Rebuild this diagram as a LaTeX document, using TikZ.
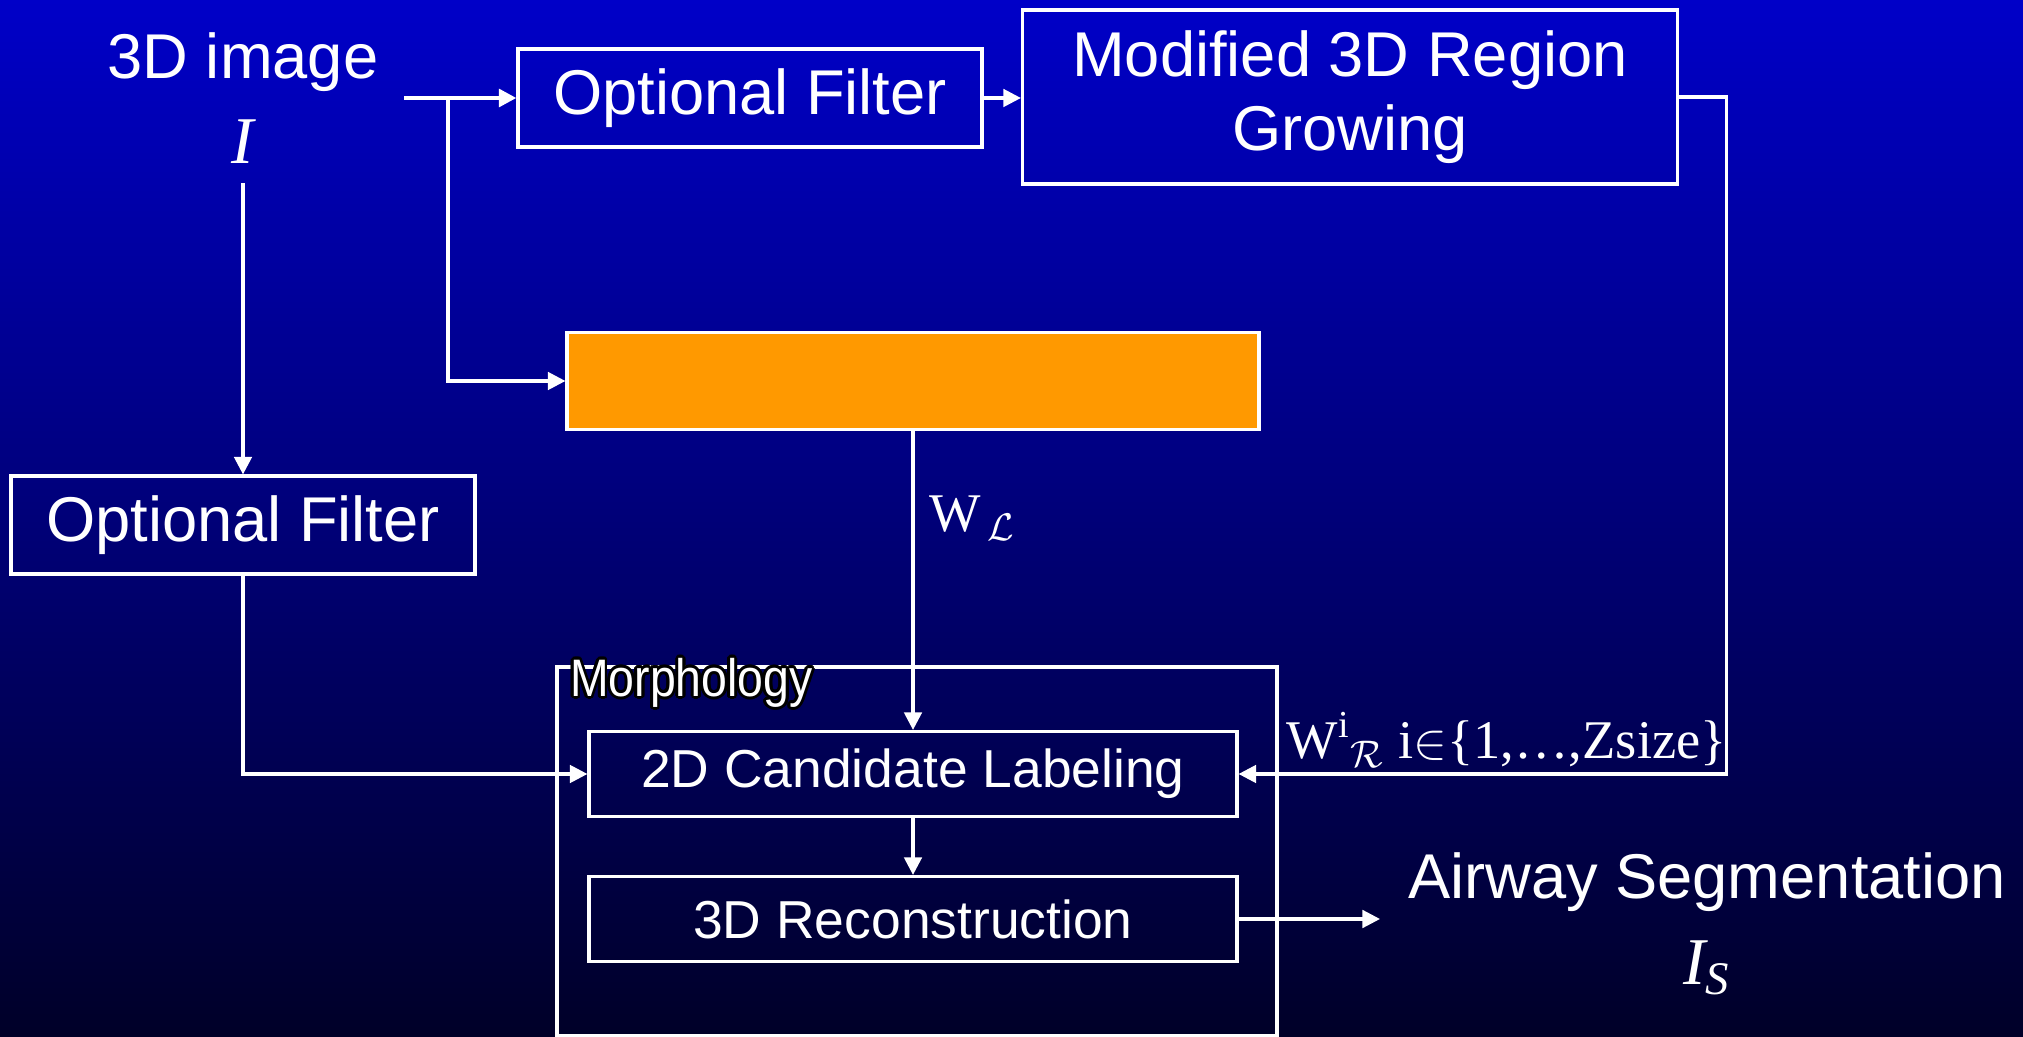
\documentclass[tikz,border=0pt]{standalone}
\usepackage{amsmath}
\usepackage{fontspec}
\setmainfont{Liberation Sans}
\newfontfamily\tnr{Liberation Serif}
\newfontfamily\narrowfont{Liberation Sans}[FakeStretch=0.88]
\usepackage{contour}
\contourlength{0.8pt}
\usetikzlibrary{arrows.meta,positioning,calc}

\definecolor{bgtop}{RGB}{0,0,200}
\definecolor{bgbot}{RGB}{0,0,40}
\definecolor{boxorange}{RGB}{255,153,0}

\tikzset{
  box/.style={draw=white, line width=0.9pt, text=white, font=\fontsize{18}{21}\selectfont, minimum height=0.98cm},
  smallbox/.style={box, font=\fontsize{15.2}{18}\selectfont, minimum width=6.48cm, minimum height=0.85cm},
  txt/.style={text=white, font=\fontsize{18}{21}\selectfont},
  mathtxt/.style={text=white, font=\tnr\fontsize{15.5}{18}\selectfont},
  arr/.style={draw=white, line width=0.9pt, -{Triangle[length=5pt,width=5pt]}},
}

\begin{document}
\begin{tikzpicture}
\useasboundingbox (0,0) rectangle (20.23,10.36);
\shade[top color=bgtop, bottom color=bgbot] (0,0) rectangle (20.23,10.36);

% input and first branch
\node[txt] (img) at (2.43,9.74) {3D image};
\node[txt, font=\tnr\itshape\fontsize{19}{21}\selectfont] (imgI) at (2.43,8.94) {I};
\coordinate (imgout) at (4.04,9.38);
\coordinate (split) at (4.48,9.38);
\node[box, minimum width=4.64cm] (filtA) at (7.50,9.38) {Optional Filter};
\node[box, minimum width=6.55cm, minimum height=1.74cm, align=center] (grow) at (13.50,9.39) {Modified 3D Region\\Growing};
\node[draw=white, line width=0.9pt, fill=boxorange, minimum width=6.92cm, minimum height=0.97cm] (orange) at (9.13,6.55) {};
\node[box, minimum width=4.64cm] (filtB) at (2.43,5.11) {Optional Filter};

% morphology block
\node[draw=white, line width=0.9pt, minimum width=7.2cm, minimum height=3.69cm, inner sep=0pt] (morph) at (9.17,1.845) {};
\node[anchor=north west, inner sep=0pt, text=white, font=\narrowfont\fontsize{15}{17}\selectfont] (morphlbl) at ($(morph.north west)+(0.14,0.08)$) {\contour{black}{Morphology}};
\node[smallbox] (label2d) at (9.13,2.62) {2D Candidate Labeling};
\node[smallbox] (recon) at (9.13,1.17) {3D Reconstruction};

% output
\coordinate (segout) at (13.80,1.17);
\node[txt] (seg) at (17.07,1.54) {Airway Segmentation};
\node[txt, font=\tnr\fontsize{19}{21}\selectfont] (segI) at (17.07,0.68) {$\text{\itshape I}_{\text{\itshape S}}$};

% connectors
\draw[arr, line width=1.2pt] (imgout) -- (filtA.west);
\draw[arr] (split) |- (orange.west);
\draw[arr] (filtA) -- (grow.west |- filtA.east);
\draw[arr] (grow.east) -- ++(0.47,0) |- (label2d.east)
  node[pos=0.725, above, inner sep=1.5pt, mathtxt] (wreg) {$\text{W}^{\text{i}}{}_{\mathcal{R}}$ i$\in$\{1,\ldots,Zsize\}};
\draw[arr, shorten <=2pt] (imgI.south) -- (filtB.north);
\draw[arr] (filtB.south) |- (label2d.west);
\draw[arr] (orange.south) -- (label2d.north)
  node[pos=0.29, right=1pt, mathtxt] (wlung) {$\text{W}_{\,\mathcal{L}}$};
\draw[arr] (label2d) -- (recon);
\draw[arr] (recon.east |- segout) -- (segout);
\end{tikzpicture}
\end{document}
